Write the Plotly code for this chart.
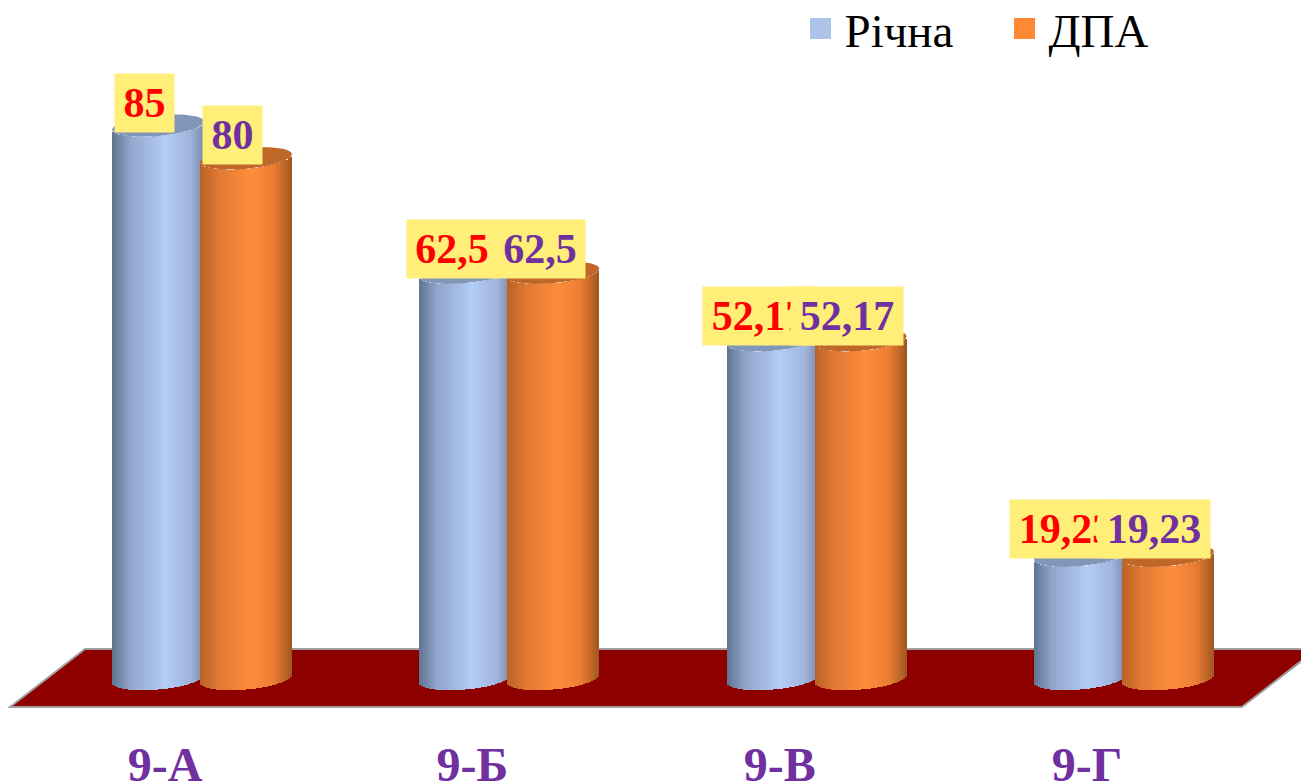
import numpy as np
import plotly.graph_objects as go

categories = ["9-А", "9-Б", "9-В", "9-Г"]
richna = [85, 62.5, 52.17, 19.23]
dpa = [80, 62.5, 52.17, 19.23]

W, H = 1301, 783
MB = 51
PX_PER_UNIT_X = 307.33
PX_PER_UNIT_Y = 6.54
X0_PX = 165.0      # pixel of category 0
Y0_PX = 681.5      # pixel of value 0
BASE_LEVEL = 0.38  # floor level the cylinders stand on
RX, RY, TILT = 46.0, 10.5, 4.0
STRIP = 2.0
BLUE_OFFSET, ORANGE_OFFSET = -7.0, 81.0
SERIF = "Liberation Serif"
BOX = "#FFEE78"
RED = "#FF0000"
PURPLE = "#7030A0"

blue_stops = [(0, (96, 116, 143)), (0.2, (146, 165, 204)), (0.58, (179, 205, 246)), (0.85, (160, 180, 220)), (1, (120, 138, 170))]
orange_stops = [(0, (186, 98, 38)), (0.22, (226, 122, 52)), (0.55, (255, 140, 60)), (0.8, (235, 126, 52)), (1, (160, 86, 32))]


def shade(stops, f):
    for (a, ca), (b, cb) in zip(stops, stops[1:]):
        if f <= b:
            t = (f - a) / (b - a)
            return "rgb(%d,%d,%d)" % tuple(round(p + (q - p) * t) for p, q in zip(ca, cb))
    return "rgb(%d,%d,%d)" % stops[-1][1]


def cylinder_trace(name, values, offset, stops):
    xs, ys, bases, widths, colors = [], [], [], [], []
    n = int(2 * RX / STRIP)
    for i, v in enumerate(values):
        for k in range(n):
            f = (k + 0.5) / n
            u = 2 * f - 1
            arc = (RY * np.sqrt(1 - u * u) - TILT * u) / PX_PER_UNIT_Y
            xs.append(i + (offset + u * RX) / PX_PER_UNIT_X)
            bases.append(BASE_LEVEL - arc)
            ys.append(v - BASE_LEVEL)
            widths.append(STRIP * 1.15 / PX_PER_UNIT_X)
            colors.append(shade(stops, f))
    return go.Bar(x=xs, y=ys, base=bases, width=widths, name=name, showlegend=False,
                  marker=dict(color=colors, line=dict(width=0)), hoverinfo="skip")


def top_trace(name, values, offset, color):
    t = np.linspace(0, 2 * np.pi, 60)
    xs, ys = [], []
    for i, v in enumerate(values):
        xs += list(i + (offset + RX * np.cos(t)) / PX_PER_UNIT_X) + [None]
        ys += list(v + (RY * np.sin(t) + TILT * np.cos(t)) / PX_PER_UNIT_Y) + [None]
    return go.Scatter(x=xs, y=ys, mode="lines", fill="toself", fillcolor=color, name=name,
                      line=dict(width=0, color=color), showlegend=False, hoverinfo="skip")


def swatch(name, color):
    return go.Scatter(x=[None], y=[None], mode="markers", name=name,
                      marker=dict(symbol="square", size=16, color=color, line=dict(width=5, color=color)))


fig = go.Figure([
    cylinder_trace("Річна", richna, BLUE_OFFSET, blue_stops),
    cylinder_trace("ДПА", dpa, ORANGE_OFFSET, orange_stops),
    top_trace("Річна верх", richna, BLUE_OFFSET, "#8296B9"),
    top_trace("ДПА верх", dpa, ORANGE_OFFSET, "#BF6629"),
    swatch("Річна", "#AEC3EA"),
    swatch("ДПА", "#FF8835"),
])


def label(i, v, offset, color):
    text = ("%g" % v).replace(".", ",")
    digits = sum(c.isdigit() for c in text)
    width = round(21 * digits + 10.5 * (len(text) - digits) + 17)
    return dict(x=i + (offset - 13.5) / PX_PER_UNIT_X, y=v, xref="x", yref="y", text="<b>%s</b>" % text,
                showarrow=False, yanchor="bottom", yshift=-3 - (0.06 * v - 0.7), bgcolor=BOX, borderpad=0,
                width=width, height=58,
                font=dict(family=SERIF, size=42, color=color))


annotations = [label(i, v, BLUE_OFFSET, RED) for i, v in enumerate(richna)]
annotations += [label(i, v, ORANGE_OFFSET, PURPLE) for i, v in enumerate(dpa)]

plot_h = H - MB
floor_pts = [(10, 707), (85, 649), (1317, 649), (1242, 707)]
floor_path = "M " + " L ".join("%.5f,%.5f" % (x / W, 1 - y / plot_h) for x, y in floor_pts) + " Z"

fig.update_layout(
    width=W, height=H, margin=dict(l=0, r=0, t=0, b=MB, pad=0, autoexpand=False),
    paper_bgcolor="white", plot_bgcolor="rgba(0,0,0,0)",
    barmode="overlay", bargap=0, hovermode=False,
    xaxis=dict(range=[-X0_PX / PX_PER_UNIT_X, (W - X0_PX) / PX_PER_UNIT_X], tickmode="array",
               tickvals=list(range(len(categories))), ticktext=["<b>%s</b>" % c for c in categories],
               tickfont=dict(family=SERIF, size=48, color=PURPLE), showgrid=False, zeroline=False,
               showline=False, ticks="", ticklen=0),
    yaxis=dict(range=[(Y0_PX - plot_h) / PX_PER_UNIT_Y, Y0_PX / PX_PER_UNIT_Y], visible=False),
    legend=dict(orientation="h", xref="container", yref="container", x=796.5 / W, xanchor="left",
                y=1 - 29 / H, yanchor="middle",
                font=dict(family=SERIF, size=47, color="#000000"), bgcolor="rgba(0,0,0,0)",
                itemsizing="trace", itemwidth=38, entrywidth=151, entrywidthmode="pixels"),
    shapes=[dict(type="path", path=floor_path, xref="paper", yref="paper", layer="below",
                 fillcolor="#8E0000", line=dict(color="#A0A0A0", width=2))],
    annotations=annotations,
    font=dict(family=SERIF),
)

fig.write_html("out.html", config={"displayModeBar": False},
               post_script="document.body.style.margin='0';document.body.style.overflow='hidden';")
